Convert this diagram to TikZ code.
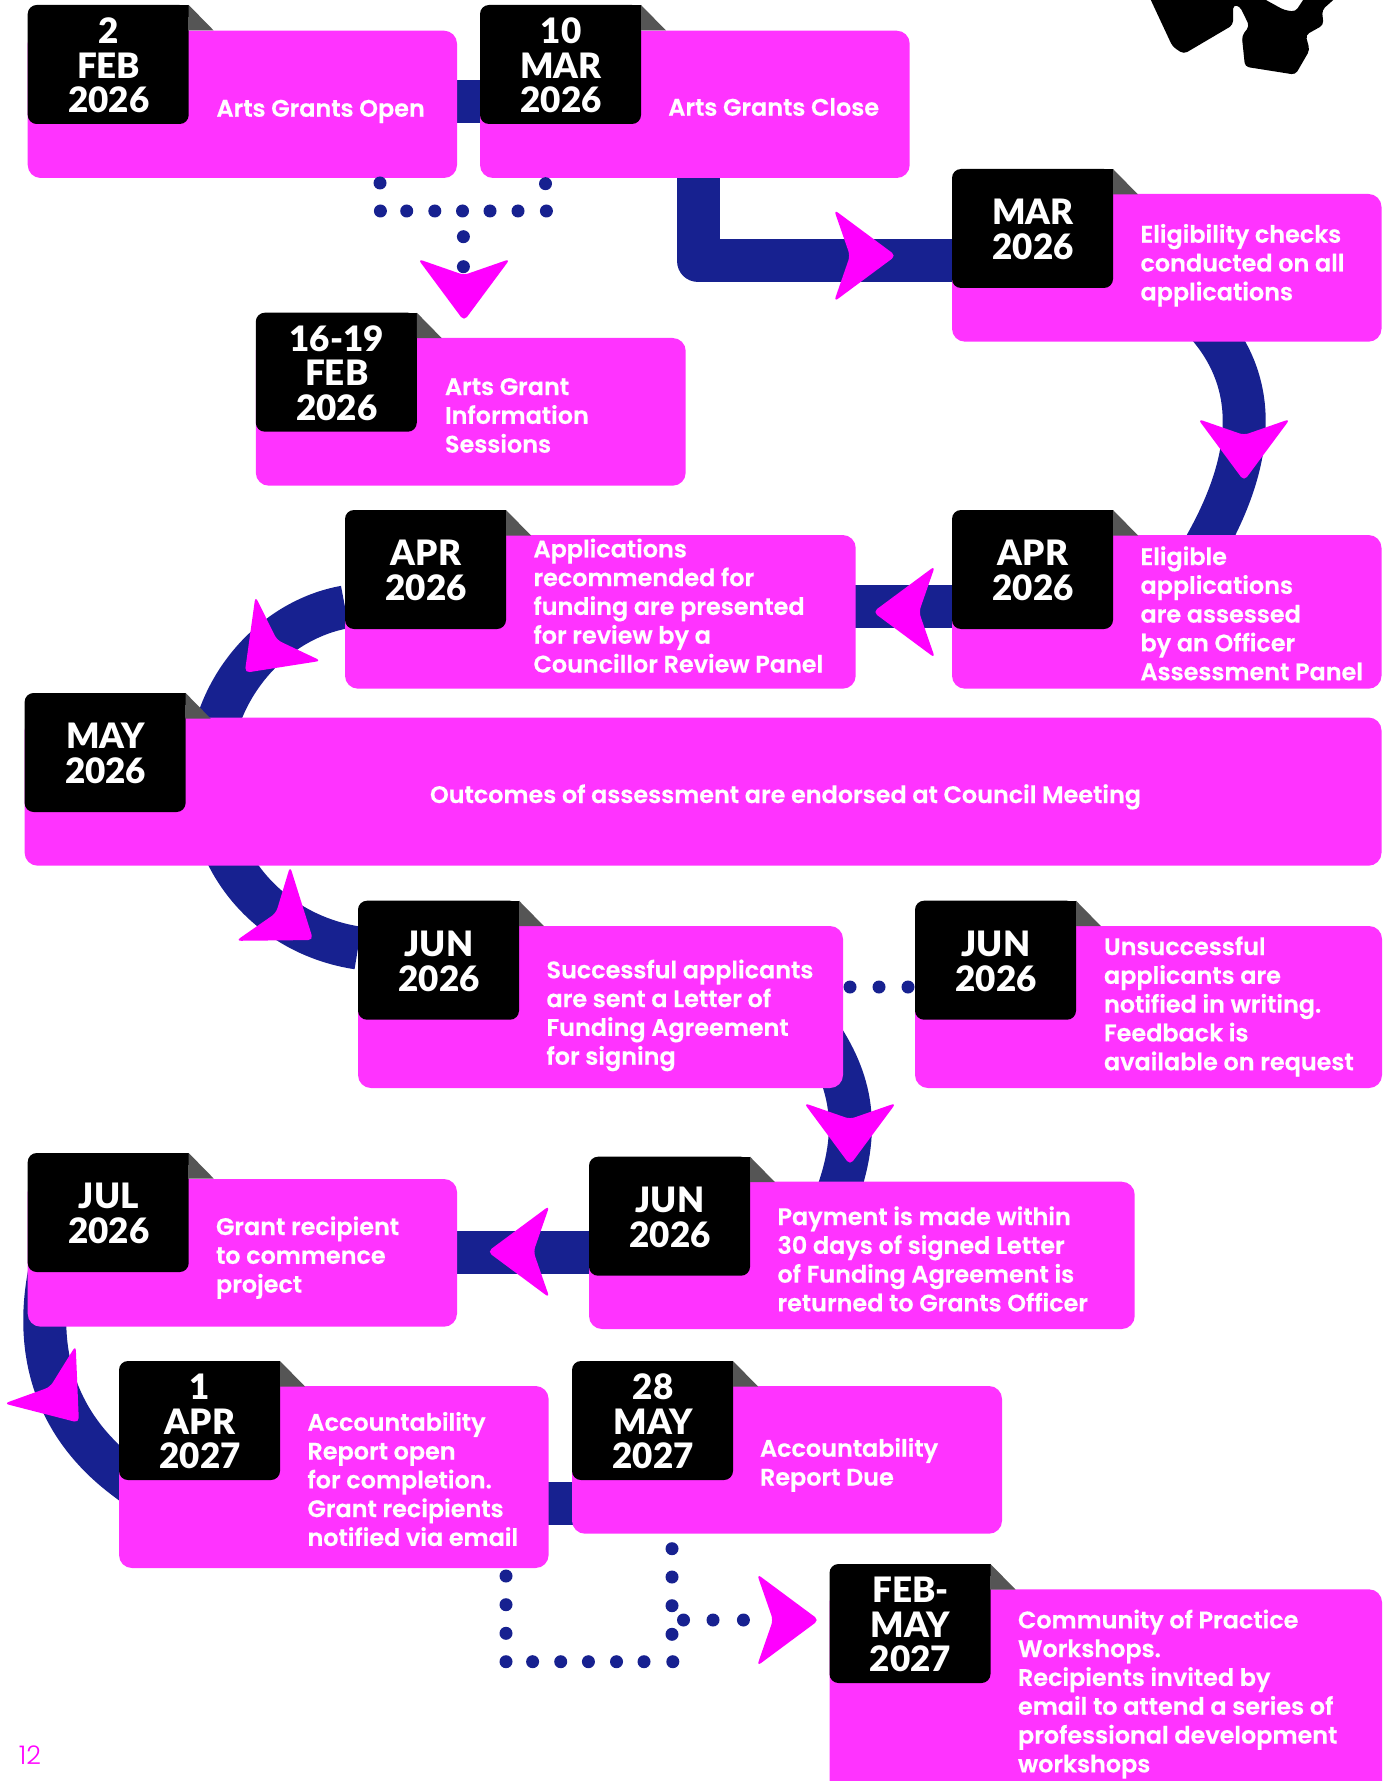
\documentclass[tikz,border=0pt]{standalone}
\usepackage{fontspec}
\usetikzlibrary{backgrounds}
\setmainfont{Poppins}
\newfontfamily\bodyfont[FakeBold=0.5]{Poppins SemiBold}
\newfontfamily\tagfont{Lato Black}
\newfontfamily\numfont{Poppins Light}
\definecolor{cardpink}{HTML}{FF33FF}
\definecolor{headpink}{HTML}{FF00FF}
\definecolor{navy}{HTML}{172190}
\definecolor{foldgrey}{HTML}{555555}
\tikzset{
  cardbox/.style={rectangle,fill=cardpink,rounded corners=6.5pt,inner sep=0pt,outer sep=0pt},
  tagbox/.style={rectangle,fill=black,rounded corners=4.5pt,inner sep=0pt,outer sep=0pt,
    minimum width=80.5pt,minimum height=59.5pt},
  tagtext/.style={inner sep=0pt,outer sep=0pt,text=white,align=center,
    font={\tagfont\fontsize{17.5}{17.25}\selectfont}},
  bodytext/.style={anchor=north west,inner sep=0pt,outer sep=0pt,text=white,align=left,
    font={\bodyfont\fontsize{11.95}{14.4}\selectfont}},
  link/.style={draw=navy,line width=21.5pt,line join=round},
  dot/.style={fill=navy},
  headfill/.style={fill=headpink,rounded corners=2.5pt},
}
\newcommand{\card}[7]{%
  \node[cardbox,minimum width={(#4-#2)*0.5pt},minimum height={(#5-#3)*0.5pt}] (#1) at ({(#2+#4)/2},{(#3+#5)/2}) {};
  \node[tagbox] (#1t) at ({#2+80.5},{#6+59.5}) {};
  \node[tagtext] (#1d) at ({#2+81},{#6+60.5}) {#7};
  \fill[black] ({#2+149},#6) rectangle ({#2+161},{#6+12});
  \fill[foldgrey] ({#2+161},#6) -- ({#2+186},{#6+25.5}) -- ({#2+161},{#6+25.5}) -- cycle;
}
\newcommand{\cardtext}[4]{\node[bodytext] (#1) at (#2,{#3-20}) {\rule{0pt}{10pt}#4};}
\newcommand{\head}[3]{\fill[headfill,shift={(#1,#2)},rotate=-#3] (0,0) -- (-16,46) -- (46,0) -- (-16,-46) -- cycle;}
\begin{document}
\begin{tikzpicture}[x=0.5pt,y=-0.5pt]
\useasboundingbox (0,0) rectangle (1386,1781);
% cards
\card{a}{27.7}{30.7}{457}{178}{5}{2\\FEB\\2026}
\card{b}{480}{30.7}{909.7}{178}{5}{10\\MAR\\2026}
\card{c}{255.8}{338}{685.7}{485.7}{312.7}{16-19\\FEB\\2026}
\card{d}{952}{194}{1381.5}{341.7}{169}{MAR\\2026}
\card{e}{952}{535}{1381.5}{688.7}{510}{APR\\2026}
\card{f}{345}{535}{855.7}{688.7}{510}{APR\\2026}
\card{g}{24.6}{717.5}{1381.5}{865.7}{693}{MAY\\2026}
\card{h}{358}{926}{843}{1088}{900.7}{JUN\\2026}
\card{i}{915}{926}{1382}{1088}{900.7}{JUN\\2026}
\card{j}{589}{1181.7}{1134.7}{1329}{1156.7}{JUN\\2026}
\card{k}{27.7}{1179}{457}{1326.7}{1153}{JUL\\2026}
\card{l}{119}{1386}{548.6}{1568}{1361}{1\\APR\\2027}
\card{m}{572}{1386}{1002}{1533.7}{1361}{28\\MAY\\2027}
\card{n}{829.5}{1589.3}{1382}{1795}{1564}{FEB-\\MAY\\2027}
% texts
\cardtext{ta}{216.5}{116.7}{Arts Grants Open}
\cardtext{tb}{668.3}{115.7}{Arts Grants Close}
\cardtext{tc}{445}{395}{Arts Grant\\Information\\Sessions}
\cardtext{td}{1140.5}{242.7}{Eligibility checks\\conducted on all\\applications}
\cardtext{te}{1140.5}{565}{Eligible\\applications\\are assessed\\by an Officer\\Assessment Panel}
\cardtext{tf}{533.5}{557.3}{Applications\\recommended for\\funding are presented\\for review by a\\Councillor Review Panel}
\cardtext{tg}{430}{803}{Outcomes of assessment are endorsed at Council Meeting}
\cardtext{th}{546.5}{978.3}{Successful applicants\\are sent a Letter of\\Funding Agreement\\for signing}
\cardtext{ti}{1104}{955}{Unsuccessful\\applicants are\\notified in writing.\\Feedback is\\available on request}
\cardtext{tj}{777.5}{1225}{Payment is made within\\30 days of signed Letter\\of Funding Agreement is\\returned to Grants Officer}
\cardtext{tk}{216}{1235}{Grant recipient\\to commence\\project}
\cardtext{tl}{307.5}{1430.7}{Accountability\\Report open\\for completion.\\Grant recipients\\notified via email}
\cardtext{tm}{760}{1456.7}{Accountability\\Report Due}
\cardtext{tn}{1018}{1628.3}{Community of Practice\\Workshops.\\Recipients invited by\\email to attend a series of\\professional development\\workshops}
\node[anchor=base west,inner sep=0pt,text=headpink,font={\numfont\fontsize{12.8}{14}\selectfont}] (pageno) at (18.5,1764) {12};
% free connector ends
\coordinate (p1) at (698,261);
\coordinate (q1) at (1193,310);
\coordinate (q2) at (1197,560);
\coordinate (r1) at (345,607);
\coordinate (r2) at (209,777);
\coordinate (r3) at (358,948);
\coordinate (s1) at (817,1030);
\coordinate (s2) at (835,1200);
\coordinate (u1) at (50,1270);
\coordinate (u2) at (165,1508);
% connectors
\begin{scope}[on background layer]
\fill[white] (0,0) rectangle (1386,1781);
\draw[link] ([yshift=1.4pt]a.center) -- ([yshift=1.4pt]b.center);
\draw[link] (b.south -| p1) -- (p1) -- (dt.west |- p1);
\draw[link] (q1) .. controls (1257,370) and (1264,450) .. (q2);
\draw[link] ([yshift=2.5pt]e.center) -- ([yshift=2.5pt]f.center);
\draw[link] (r1) .. controls (272,620) and (209,690) .. (r2) .. controls (209,865) and (272,935) .. (r3);
\draw[link] (s1) .. controls (852,1080) and (862,1130) .. (s2);
\draw[link] (jt.west |- 0,1252.5) -- (k.east |- 0,1252.5);
\draw[link] (u1) .. controls (40,1320) and (35,1410) .. (125,1478) -- (u2);
\draw[link] (l.center |- 0,1503) -- (m.center |- 0,1503);
\end{scope}
% dotted connectors
\foreach \px/\py in {380/183,545.5/183.7,380.4/211,406.7/211,434.8/211,462.5/211,490/211,518/211,546.4/211,463.4/236.7,463.4/266.7,
  850/987,879/987,908/987,
  506/1576,506/1604.7,506/1633.3,506/1661.7,532.6/1661.7,560.7/1661.7,588.4/1661.7,616.5/1661.7,644/1661.7,672.8/1661.7,
  672/1548.7,672/1577,672/1605.7,672/1634.3,683.5/1620,713/1620,743.4/1620}
  {\fill[dot] (\px,\py) circle (6.5);}
% arrowheads
\head{464}{275}{90}
\head{850}{255.7}{0}
\head{1244}{435}{90}
\head{919}{612}{180}
\head{277}{640}{134.5}
\head{276}{913}{36}
\head{850}{1119}{90}
\head{533.5}{1251.7}{180}
\head{50}{1387}{51}
\head{773}{1620}{0}
% black shape
\fill[black,rounded corners=2pt] (1148,-6) -- (1172.6,46.7) -- (1183.8,54) -- (1233,25) -- (1233,5) -- (1239.6,6) -- (1249.4,26) -- (1241.8,36) -- (1245,66.7) -- (1295.4,74.7) -- (1309.7,50) -- (1305.6,35) -- (1323.5,25) -- (1322,10) -- (1340,-6) -- (1307,-6) -- (1295.4,11.7) -- (1284,10) -- (1255,-6) -- cycle;
\end{tikzpicture}
\end{document}
